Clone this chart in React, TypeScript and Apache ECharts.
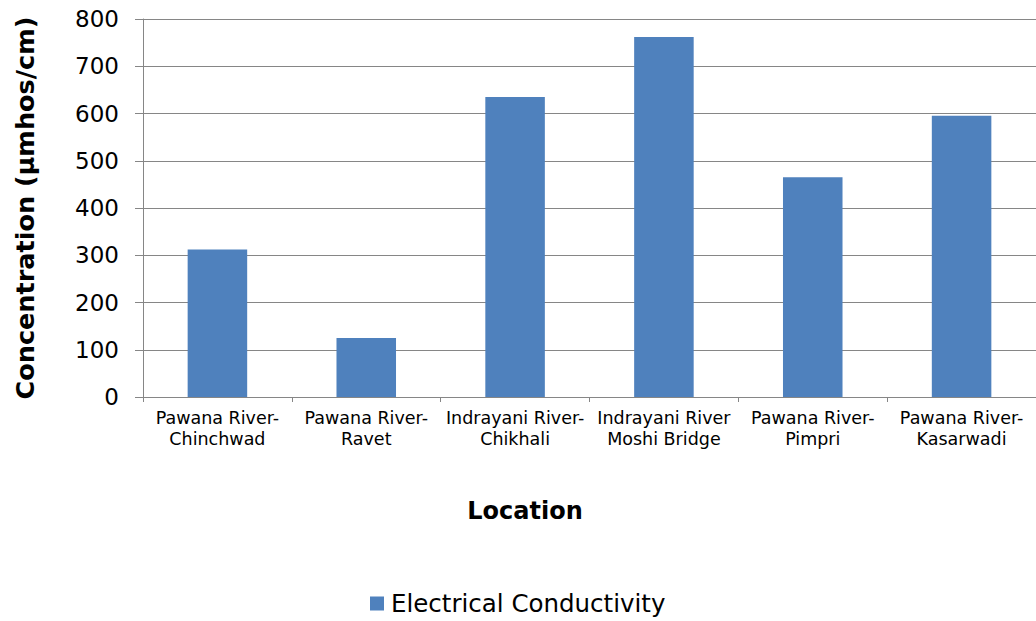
import React, { useEffect, useRef } from "react";
import * as echarts from "echarts";

const categories = [
  "Pawana River-\nChinchwad",
  "Pawana River-\nRavet",
  "Indrayani River-\nChikhali",
  "Indrayani River\nMoshi Bridge",
  "Pawana River-\nPimpri",
  "Pawana River-\nKasarwadi",
];
const conductivity = [312, 125, 635, 762, 465, 595];
const seriesName = "Electrical Conductivity";
const yTitle = "Concentration (µmhos/cm)";
const xTitle = "Location";

const FONT = "DejaVu Sans, Verdana, sans-serif";

export default function App() {
  const ref = useRef<HTMLDivElement>(null);
  useEffect(() => {
    if (!ref.current) return;
    const chart = echarts.init(ref.current, undefined, { renderer: "svg" });
    chart.setOption({
      animation: false,
      backgroundColor: "#ffffff",
      textStyle: { fontFamily: FONT },
      grid: { left: 143, right: 0, top: 19, bottom: 224, containLabel: false },
      legend: {
        data: [seriesName],
        left: 370,
        top: 591,
        padding: 0,
        itemWidth: 14,
        itemHeight: 14,
        itemGap: 10,
        icon: "rect",
        textStyle: { fontSize: 24.5, color: "#000", fontFamily: FONT, padding: [0, 0, 0, 2] },
      },
      graphic: [
        {
          type: "text",
          x: 525,
          y: 511,
          style: {
            text: xTitle,
            fontSize: 24,
            fontWeight: "bold",
            fontFamily: FONT,
            fill: "#000",
            align: "center",
            verticalAlign: "middle",
          },
        },
      ],
      xAxis: {
        type: "category",
        data: categories,
        axisLine: { show: true, lineStyle: { color: "#868686", width: 1 } },
        axisTick: { show: true, length: 5, alignWithLabel: false, lineStyle: { color: "#868686" } },
        axisLabel: {
          interval: 0,
          margin: 10,
          fontSize: 17.5,
          lineHeight: 21,
          color: "#000",
          fontFamily: FONT,
        },
      },
      yAxis: {
        type: "value",
        min: 0,
        max: 800,
        interval: 100,
        name: yTitle,
        nameLocation: "middle",
        nameGap: 105,
        nameRotate: 90,
        nameTextStyle: { fontSize: 25.5, fontWeight: "bold", color: "#000", fontFamily: FONT },
        axisLine: { show: true, lineStyle: { color: "#868686", width: 1 } },
        axisTick: { show: true, length: 8, inside: false, lineStyle: { color: "#868686" } },
        axisLabel: { margin: 24, fontSize: 23, color: "#000", fontFamily: FONT },
        splitLine: { show: true, lineStyle: { color: "#868686", width: 1 } },
      },
      series: [
        {
          name: seriesName,
          type: "bar",
          data: conductivity,
          barCategoryGap: "60%",
          itemStyle: { color: "#4F81BD" },
        },
      ],
    });
    return () => chart.dispose();
  }, []);
  return (
    <div
      ref={ref}
      style={{ position: "absolute", left: 0, top: 0, width: 1036, height: 621 }}
    />
  );
}
